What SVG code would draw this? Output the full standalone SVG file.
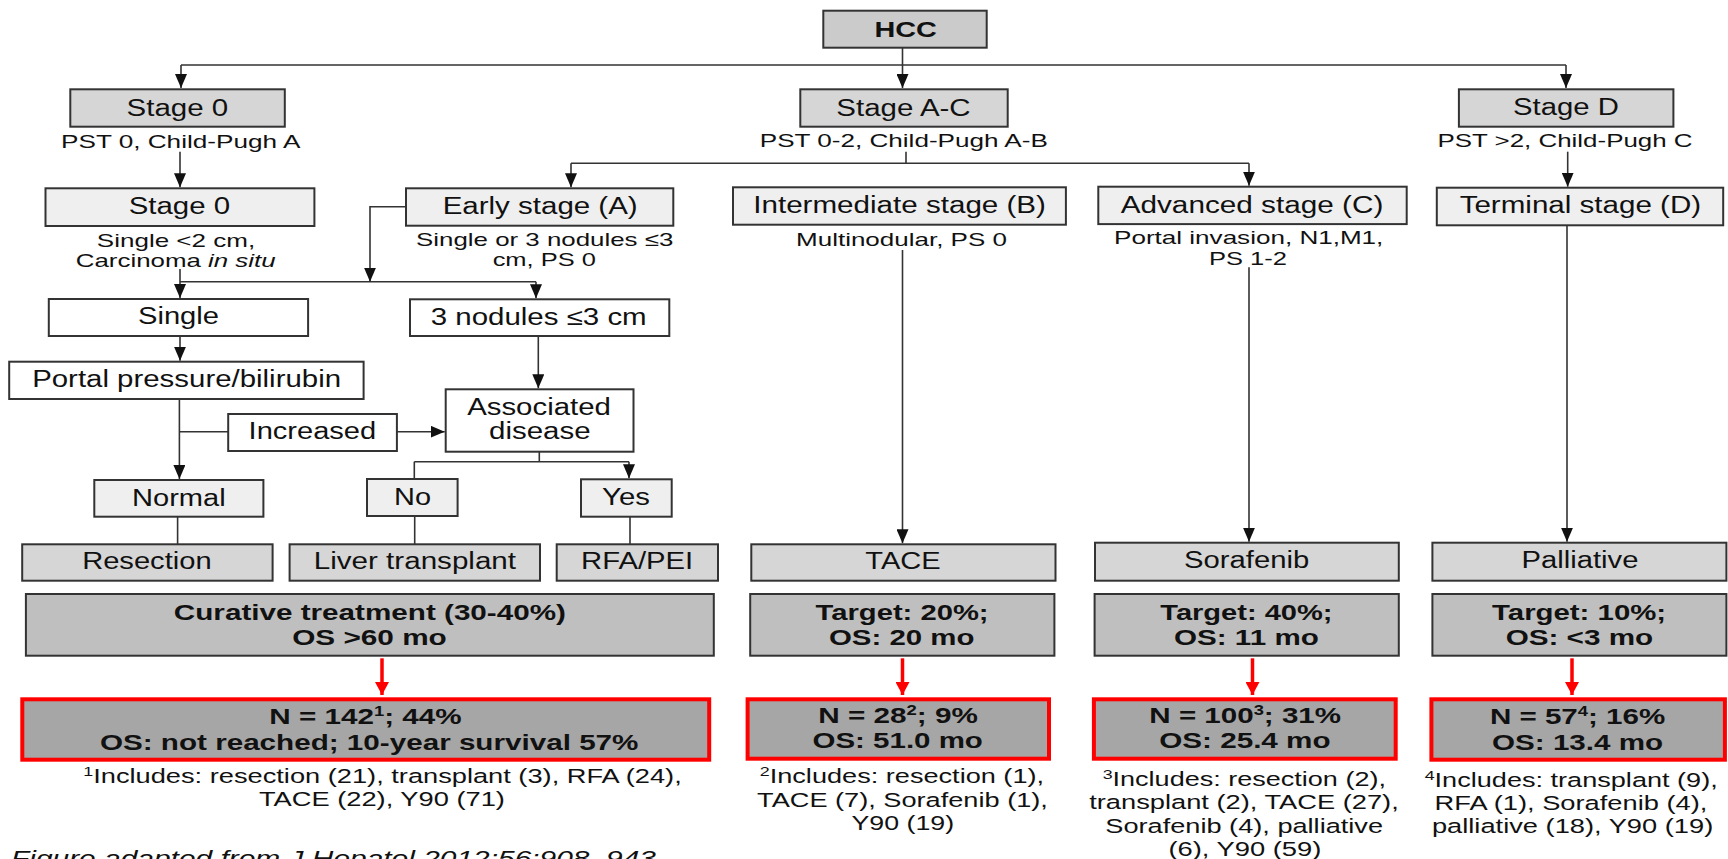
<svg xmlns="http://www.w3.org/2000/svg" width="1728" height="859" viewBox="0 0 1728 859">
<defs>
<style>
.bx{stroke:#333;stroke-width:2}
.g{fill:#d6d6d6}
.h{fill:#cbcbcb}
.l{fill:#efefef}
.w{fill:#ffffff}
.o{fill:#bfbfbf}
.r{fill:#a6a6a6;stroke:#ff0000;stroke-width:4}
text{font-family:"Liberation Sans",Arial,Helvetica,sans-serif;fill:#111;text-anchor:middle}
.t{font-size:23.5px}
.s{font-size:19px}
.f{font-size:20.5px}
.bd{font-size:22.5px;font-weight:bold}
.cap{font-size:22px;font-style:italic;text-anchor:start}
.c{stroke:#333;stroke-width:1.6;fill:none}
.rc{stroke:#ff0000;stroke-width:3.5;fill:none}
</style>
<marker id="ah" markerUnits="userSpaceOnUse" markerWidth="14" markerHeight="12" refX="14" refY="6" orient="auto">
<path d="M0,0 L14,6 L0,12 z" fill="#111"/>
</marker>
<marker id="rah" markerUnits="userSpaceOnUse" markerWidth="15" markerHeight="14" refX="13" refY="7" orient="auto">
<path d="M0,0 L13,7 L0,14 z" fill="#ff0000"/>
</marker>
</defs>
<rect width="1728" height="859" fill="#ffffff"/>

<g id="connectors">
<path class="c" d="M181,65 H1566"/>
<path class="c" d="M181,65 V88" marker-end="url(#ah)"/>
<path class="c" d="M1566,65 V88" marker-end="url(#ah)"/>
<path class="c" d="M902.5,47.7 V88" marker-end="url(#ah)"/>
<path class="c" d="M180,151.7 V187.3" marker-end="url(#ah)"/>
<path class="c" d="M906,151.7 V163.3"/>
<path class="c" d="M571,163.3 H1249"/>
<path class="c" d="M571,163.3 V187.3" marker-end="url(#ah)"/>
<path class="c" d="M1249,163.3 V185.7" marker-end="url(#ah)"/>
<path class="c" d="M1567.7,151.7 V186.7" marker-end="url(#ah)"/>
<path class="c" d="M180,269 V298" marker-end="url(#ah)"/>
<path class="c" d="M180,281.7 H536"/>
<path class="c" d="M405.8,206.7 H370 V281.7" marker-end="url(#ah)"/>
<path class="c" d="M536,281.7 V298.3" marker-end="url(#ah)"/>
<path class="c" d="M180,336 V360.7" marker-end="url(#ah)"/>
<path class="c" d="M179.4,399 V479" marker-end="url(#ah)"/>
<path class="c" d="M179.4,431.7 H228.2"/>
<path class="c" d="M396.9,431.7 H444.7" marker-end="url(#ah)"/>
<path class="c" d="M538.3,336 V388.3" marker-end="url(#ah)"/>
<path class="c" d="M539.3,451.7 V461.7"/>
<path class="c" d="M414.3,461.7 H629"/>
<path class="c" d="M414.3,461.7 V479"/>
<path class="c" d="M629,461.7 V478.3" marker-end="url(#ah)"/>
<path class="c" d="M177.6,516.7 V544.3"/>
<path class="c" d="M414.7,516 V544.3"/>
<path class="c" d="M630,516.7 V544.3"/>
<path class="c" d="M902.5,250 V543.3" marker-end="url(#ah)"/>
<path class="c" d="M1249,267.3 V541.7" marker-end="url(#ah)"/>
<path class="c" d="M1567,225.3 V541.7" marker-end="url(#ah)"/>
<path class="rc" d="M382,658.3 V695" marker-end="url(#rah)"/>
<path class="rc" d="M902.5,658.3 V695" marker-end="url(#rah)"/>
<path class="rc" d="M1252.5,658.3 V695" marker-end="url(#rah)"/>
<path class="rc" d="M1572,658.3 V695" marker-end="url(#rah)"/>
</g>

<g id="hcc">
<rect class="bx h" x="823.3" y="10.7" width="163.4" height="37"/>
<text class="bd" x="905.7" y="36.5" textLength="62.4" lengthAdjust="spacingAndGlyphs">HCC</text>
</g>

<g id="stage0-top">
<rect class="bx g" x="70.3" y="89.3" width="214.5" height="37.4"/>
<text class="t" x="177.4" y="116" textLength="101.7" lengthAdjust="spacingAndGlyphs">Stage 0</text>
<text class="s" x="180.7" y="147.7" textLength="239.3" lengthAdjust="spacingAndGlyphs">PST 0, Child-Pugh A</text>
</g>

<g id="stageAC">
<rect class="bx g" x="800.3" y="89.3" width="207.4" height="37.4"/>
<text class="t" x="903.5" y="115.7" textLength="134.3" lengthAdjust="spacingAndGlyphs">Stage A-C</text>
<text class="s" x="903.8" y="146.7" textLength="288.1" lengthAdjust="spacingAndGlyphs">PST 0-2, Child-Pugh A-B</text>
</g>

<g id="stageD">
<rect class="bx g" x="1458.9" y="89.3" width="214.5" height="37.4"/>
<text class="t" x="1566" y="115" textLength="105.8" lengthAdjust="spacingAndGlyphs">Stage D</text>
<text class="s" x="1565" y="146.7" textLength="255.1" lengthAdjust="spacingAndGlyphs">PST &gt;2, Child-Pugh C</text>
</g>

<g id="stage0">
<rect class="bx l" x="45.5" y="188.3" width="268.9" height="37.7"/>
<text class="t" x="179.4" y="214.3" textLength="101.4" lengthAdjust="spacingAndGlyphs">Stage 0</text>
<text class="s" x="176" y="246.7" textLength="158.3" lengthAdjust="spacingAndGlyphs">Single &lt;2 cm,</text>
<text class="s" x="175.7" y="266.7" textLength="199.8" lengthAdjust="spacingAndGlyphs">Carcinoma <tspan font-style="italic">in situ</tspan></text>
</g>

<g id="early">
<rect class="bx l" x="406" y="188.3" width="267.3" height="37.4"/>
<text class="t" x="540.2" y="214" textLength="195" lengthAdjust="spacingAndGlyphs">Early stage (A)</text>
<text class="s" x="544.7" y="245.7" textLength="257.3" lengthAdjust="spacingAndGlyphs">Single or 3 nodules ≤3</text>
<text class="s" x="544.3" y="266" textLength="103.3" lengthAdjust="spacingAndGlyphs">cm, PS 0</text>
</g>

<g id="intermediate">
<rect class="bx l" x="733" y="187.3" width="332.9" height="37.4"/>
<text class="t" x="899.6" y="213.3" textLength="292.7" lengthAdjust="spacingAndGlyphs">Intermediate stage (B)</text>
<text class="s" x="901.5" y="246" textLength="210.9" lengthAdjust="spacingAndGlyphs">Multinodular, PS 0</text>
</g>

<g id="advanced">
<rect class="bx l" x="1098.3" y="186.7" width="308.4" height="37.4"/>
<text class="t" x="1252" y="213.3" textLength="262.7" lengthAdjust="spacingAndGlyphs">Advanced stage (C)</text>
<text class="s" x="1248.7" y="244" textLength="269.3" lengthAdjust="spacingAndGlyphs">Portal invasion, N1,M1,</text>
<text class="s" x="1248" y="265" textLength="78" lengthAdjust="spacingAndGlyphs">PS 1-2</text>
</g>

<g id="terminal">
<rect class="bx l" x="1436.8" y="187.7" width="286.4" height="37.6"/>
<text class="t" x="1580.4" y="213.3" textLength="241.5" lengthAdjust="spacingAndGlyphs">Terminal stage (D)</text>
</g>

<g id="single">
<rect class="bx w" x="48.8" y="299" width="259.3" height="37"/>
<text class="t" x="178.5" y="324" textLength="81" lengthAdjust="spacingAndGlyphs">Single</text>
</g>

<g id="nodules3">
<rect class="bx w" x="410" y="299.3" width="259.3" height="36.7"/>
<text class="t" x="538.7" y="325" textLength="216" lengthAdjust="spacingAndGlyphs">3 nodules ≤3 cm</text>
</g>

<g id="portal">
<rect class="bx w" x="9.2" y="361.7" width="354.4" height="37.3"/>
<text class="t" x="186.6" y="387.3" textLength="308.9" lengthAdjust="spacingAndGlyphs">Portal pressure/bilirubin</text>
</g>

<g id="increased">
<rect class="bx w" x="228.2" y="414" width="168.7" height="37"/>
<text class="t" x="312.4" y="439.3" textLength="127.6" lengthAdjust="spacingAndGlyphs">Increased</text>
</g>

<g id="associated">
<rect class="bx w" x="445.7" y="389.3" width="187.8" height="62.4"/>
<text class="t" x="539" y="415" textLength="143.7" lengthAdjust="spacingAndGlyphs">Associated</text>
<text class="t" x="539.8" y="439.3" textLength="101.6" lengthAdjust="spacingAndGlyphs">disease</text>
</g>

<g id="normal">
<rect class="bx l" x="94.3" y="480" width="169.1" height="36.7"/>
<text class="t" x="178.8" y="505.7" textLength="93.6" lengthAdjust="spacingAndGlyphs">Normal</text>
</g>

<g id="no">
<rect class="bx l" x="367" y="479" width="90.6" height="37"/>
<text class="t" x="412.5" y="505" textLength="37" lengthAdjust="spacingAndGlyphs">No</text>
</g>

<g id="yes">
<rect class="bx l" x="581" y="479.3" width="90.7" height="37.4"/>
<text class="t" x="626" y="505" textLength="47.8" lengthAdjust="spacingAndGlyphs">Yes</text>
</g>

<g id="resection">
<rect class="bx g" x="22.2" y="544.3" width="250.4" height="36.4"/>
<text class="t" x="146.9" y="569.3" textLength="129.5" lengthAdjust="spacingAndGlyphs">Resection</text>
</g>

<g id="liver-transplant">
<rect class="bx g" x="289.6" y="544.3" width="250.4" height="36.4"/>
<text class="t" x="414.9" y="569.3" textLength="202.3" lengthAdjust="spacingAndGlyphs">Liver transplant</text>
</g>

<g id="rfa-pei">
<rect class="bx g" x="556.7" y="544.3" width="161.3" height="36.4"/>
<text class="t" x="637.1" y="569.3" textLength="112.2" lengthAdjust="spacingAndGlyphs">RFA/PEI</text>
</g>

<g id="tace">
<rect class="bx g" x="751.3" y="544.3" width="304.2" height="36.4"/>
<text class="t" x="903" y="569.3" textLength="75.4" lengthAdjust="spacingAndGlyphs">TACE</text>
</g>

<g id="sorafenib">
<rect class="bx g" x="1095" y="542.7" width="303.8" height="38"/>
<text class="t" x="1246.6" y="568.3" textLength="125.3" lengthAdjust="spacingAndGlyphs">Sorafenib</text>
</g>

<g id="palliative">
<rect class="bx g" x="1432.4" y="542.7" width="294" height="38"/>
<text class="t" x="1580" y="568.3" textLength="116.8" lengthAdjust="spacingAndGlyphs">Palliative</text>
</g>

<g id="curative">
<rect class="bx o" x="25.9" y="594" width="687.9" height="61.7"/>
<text class="bd" x="369.9" y="620" textLength="392.1" lengthAdjust="spacingAndGlyphs">Curative treatment (30-40%)</text>
<text class="bd" x="369.5" y="645" textLength="154.6" lengthAdjust="spacingAndGlyphs">OS &gt;60 mo</text>
</g>

<g id="target20">
<rect class="bx o" x="750.2" y="594" width="304.2" height="61.7"/>
<text class="bd" x="902.1" y="620" textLength="173" lengthAdjust="spacingAndGlyphs">Target: 20%;</text>
<text class="bd" x="901.7" y="645" textLength="145.4" lengthAdjust="spacingAndGlyphs">OS: 20 mo</text>
</g>

<g id="target40">
<rect class="bx o" x="1094.6" y="594" width="304.2" height="61.7"/>
<text class="bd" x="1246.4" y="620" textLength="172.2" lengthAdjust="spacingAndGlyphs">Target: 40%;</text>
<text class="bd" x="1246.4" y="645" textLength="144.8" lengthAdjust="spacingAndGlyphs">OS: 11 mo</text>
</g>

<g id="target10">
<rect class="bx o" x="1432.4" y="594" width="294" height="61.7"/>
<text class="bd" x="1579.1" y="620" textLength="174" lengthAdjust="spacingAndGlyphs">Target: 10%;</text>
<text class="bd" x="1579.4" y="645" textLength="147.5" lengthAdjust="spacingAndGlyphs">OS: &lt;3 mo</text>
</g>

<g id="result-curative">
<rect class="r" x="22.3" y="699.3" width="686.9" height="60.4"/>
<text class="bd" x="365.5" y="724.3" textLength="192.3" lengthAdjust="spacingAndGlyphs">N = 142<tspan dy="-8" font-size="14">1</tspan><tspan dy="8">; 44%</tspan></text>
<text class="bd" x="369.2" y="750" textLength="538.5" lengthAdjust="spacingAndGlyphs">OS: not reached; 10-year survival 57%</text>
<text class="f" x="382.5" y="782.7" textLength="598.5" lengthAdjust="spacingAndGlyphs"><tspan dy="-7" font-size="13.5">1</tspan><tspan dy="7">Includes: resection (21), transplant (3), RFA (24),</tspan></text>
<text class="f" x="381.9" y="806" textLength="246" lengthAdjust="spacingAndGlyphs">TACE (22), Y90 (71)</text>
</g>

<g id="result-tace">
<rect class="r" x="747.6" y="699.3" width="301.4" height="59.4"/>
<text class="bd" x="898.1" y="723.3" textLength="159.6" lengthAdjust="spacingAndGlyphs">N = 28<tspan dy="-8" font-size="14">2</tspan><tspan dy="8">; 9%</tspan></text>
<text class="bd" x="897.7" y="748.3" textLength="170.3" lengthAdjust="spacingAndGlyphs">OS: 51.0 mo</text>
<text class="f" x="901.9" y="783.3" textLength="284.3" lengthAdjust="spacingAndGlyphs"><tspan dy="-7" font-size="13.5">2</tspan><tspan dy="7">Includes: resection (1),</tspan></text>
<text class="f" x="902.5" y="807.3" textLength="290.8" lengthAdjust="spacingAndGlyphs">TACE (7), Sorafenib (1),</text>
<text class="f" x="902.8" y="830" textLength="102.5" lengthAdjust="spacingAndGlyphs">Y90 (19)</text>
</g>

<g id="result-sorafenib">
<rect class="r" x="1093.9" y="699.3" width="301.8" height="59.4"/>
<text class="bd" x="1245.2" y="723.3" textLength="191.7" lengthAdjust="spacingAndGlyphs">N = 100<tspan dy="-8" font-size="14">3</tspan><tspan dy="8">; 31%</tspan></text>
<text class="bd" x="1244.9" y="748.3" textLength="171.4" lengthAdjust="spacingAndGlyphs">OS: 25.4 mo</text>
<text class="f" x="1244.3" y="786" textLength="283.3" lengthAdjust="spacingAndGlyphs"><tspan dy="-7" font-size="13.5">3</tspan><tspan dy="7">Includes: resection (2),</tspan></text>
<text class="f" x="1244" y="809.3" textLength="309.6" lengthAdjust="spacingAndGlyphs">transplant (2), TACE (27),</text>
<text class="f" x="1244.2" y="832.7" textLength="277.7" lengthAdjust="spacingAndGlyphs">Sorafenib (4), palliative</text>
<text class="f" x="1244.9" y="856" textLength="153" lengthAdjust="spacingAndGlyphs">(6), Y90 (59)</text>
</g>

<g id="result-palliative">
<rect class="r" x="1431.4" y="699.3" width="293.5" height="60.4"/>
<text class="bd" x="1577.6" y="724.3" textLength="175.4" lengthAdjust="spacingAndGlyphs">N = 57<tspan dy="-8" font-size="14">4</tspan><tspan dy="8">; 16%</tspan></text>
<text class="bd" x="1577.6" y="750" textLength="171" lengthAdjust="spacingAndGlyphs">OS: 13.4 mo</text>
<text class="f" x="1571.2" y="786.7" textLength="293.1" lengthAdjust="spacingAndGlyphs"><tspan dy="-7" font-size="13.5">4</tspan><tspan dy="7">Includes: transplant (9),</tspan></text>
<text class="f" x="1571" y="810" textLength="272.8" lengthAdjust="spacingAndGlyphs">RFA (1), Sorafenib (4),</text>
<text class="f" x="1572.6" y="833.3" textLength="281.3" lengthAdjust="spacingAndGlyphs">palliative (18), Y90 (19)</text>
</g>

<g id="caption">
<text class="cap" x="11" y="866" textLength="645" lengthAdjust="spacingAndGlyphs">Figure adapted from J Hepatol 2012;56:908–943</text>
</g>
</svg>
